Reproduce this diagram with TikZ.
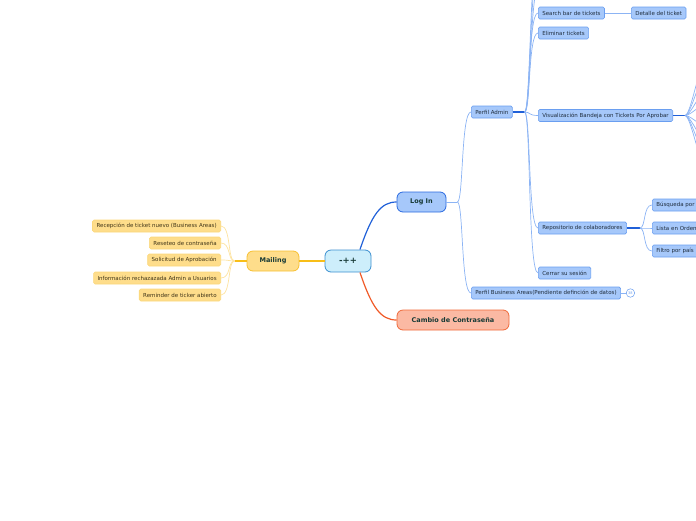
\documentclass[tikz,border=0pt]{standalone}
\usepackage{fontspec}
\setmainfont{DejaVu Sans}
\usetikzlibrary{positioning}

\definecolor{centerfill}{HTML}{CDEEFB}
\definecolor{centerdraw}{HTML}{3B8FD0}
\definecolor{loginfill}{HTML}{A6C8FA}
\definecolor{logindraw}{HTML}{2A6AE0}
\definecolor{pwdfill}{HTML}{FBB9A3}
\definecolor{pwddraw}{HTML}{F06A3A}
\definecolor{mailfill}{HTML}{FEDD8B}
\definecolor{maildraw}{HTML}{F8C030}
\definecolor{subdraw}{HTML}{6A9EF0}
\definecolor{subtext}{HTML}{1F2D3D}
\definecolor{mailsubdraw}{HTML}{FBD77A}
\definecolor{mailtext}{HTML}{3F3418}
\definecolor{topictext}{HTML}{173A36}
\definecolor{linkblue}{HTML}{8CB4F4}
\definecolor{strongblue}{HTML}{2060D8}
\definecolor{linkorange}{HTML}{F05A28}
\definecolor{linkyellow}{HTML}{F8BE18}
\definecolor{lightyellow}{HTML}{FDE3A0}

\begin{document}
\begin{tikzpicture}[x=1pt,y=-1pt,
  topic/.style={draw,rounded corners=6pt,minimum height=20pt,inner xsep=8pt,line width=0.8pt,
    font=\fontsize{6.5}{7}\selectfont\bfseries,text=topictext},
  sub/.style={draw=subdraw,fill=loginfill,rounded corners=1.5pt,minimum height=12pt,inner xsep=4pt,
    inner ysep=0pt,line width=0.6pt,font=\fontsize{5.5}{6}\selectfont,text=subtext},
  mailsub/.style={sub,draw=mailsubdraw,fill=mailfill,text=mailtext},
  link/.style={draw=linkblue,line width=0.7pt},
  mlink/.style={draw=lightyellow,line width=0.7pt},
  fork/.style={draw=strongblue,line width=1.2pt}]
  \useasboundingbox (0,0) rectangle (696,520);
  \clip (0,0) rectangle (696,520);

  % main topics
  \node[topic,fill=centerfill,draw=centerdraw,minimum width=46pt,minimum height=22pt,
    font=\fontsize{8.5}{9}\selectfont\bfseries] (root) at (348,261) {-++};
  \node[topic,fill=mailfill,draw=maildraw,minimum width=52pt] (mailing) at (273,261) {Mailing};
  \node[topic,fill=loginfill,draw=logindraw,minimum width=49pt] (login) at (421.5,202) {Log In};
  \node[topic,fill=pwdfill,draw=pwddraw,minimum width=112pt] (pwd) at (453,320) {Cambio de Contraseña};

  \draw[linkyellow,line width=1.2pt] (root.west) -- (mailing.east);
  \draw[strongblue,line width=1.2pt] (360,249.5) .. controls (372,214) and (381,202) .. (login.west);
  \draw[linkorange,line width=1.2pt] (360,272.5) .. controls (372,308) and (381,320) .. (pwd.west);

  % Mailing
  \node[mailsub,anchor=east] (recep) at (221,226) {Recepción de ticket nuevo (Business Areas)};
  \node[mailsub,anchor=east] (reset) at (221,243) {Reseteo de contraseña};
  \node[mailsub,anchor=east] (solic) at (221,260) {Solicitud de Aprobación};
  \node[mailsub,anchor=east] (info) at (221,278) {Información rechazazada Admin a Usuarios};
  \node[mailsub,anchor=east] (remind) at (221,295) {Reminder de ticker abierto};
  \coordinate[left=12pt of mailing] (mailfork);
  \draw[linkyellow,line width=1.2pt] (mailing.west) -- (mailfork);
  \foreach \t in {recep,reset,solic,info,remind}
    \draw[mlink] (mailfork) .. controls +(-7,0) and +(10,0) .. (\t.east);

  % Log In
  \node[sub,anchor=west] (admin) at (471,112) {Perfil Admin};
  \node[sub,anchor=west] (business) at (471,293) {Perfil Business Areas(Pendiente definción de datos)};
  \node[circle,draw=subdraw,fill=white,line width=0.5pt,inner sep=0pt,minimum size=8.5pt,
    font=\fontsize{3.5}{4}\selectfont,text=subdraw,right=5pt of business] (more) {38};
  \draw[link] (business.east) -- (more.west);
  \coordinate[right=11pt of login] (loginfork);
  \draw[link] (login.east) -- (loginfork);
  \foreach \t in {admin,business}
    \draw[link] (loginfork) .. controls +(6,0) and +(-10,0) .. (\t.west);

  % Perfil Admin
  \node[sub,anchor=west] (search) at (538,13) {Search bar de tickets};
  \node[sub,anchor=west] (detalle) at (631,13) {Detalle del ticket};
  \node[sub,anchor=west] (elim) at (538,33) {Eliminar tickets};
  \node[sub,anchor=west] (bandeja) at (538,115.5) {Visualización Bandeja con Tickets Por Aprobar};
  \node[sub,anchor=west] (repo) at (538,228) {Repositorio de colaboradores};
  \node[sub,anchor=west] (logout) at (538,273) {Cerrar su sesión};
  \coordinate (hidden1) at (540,-18);
  \coordinate (hidden2) at (540,-40);
  \coordinate (hidden3) at (540,-62);
  \coordinate[right=12pt of admin] (adminfork);
  \draw[fork] (admin.east) -- (adminfork);
  \foreach \t in {hidden1,hidden2,hidden3,search.west,elim.west,bandeja.west,repo.west,logout.west}
    \draw[link] (adminfork) .. controls +(6,0) and +(-10,0) .. (\t);
  \draw[link] (search.east) -- (detalle.west);

  % Bandeja (ramas fuera del cuadro)
  \coordinate[right=12pt of bandeja] (bandejafork);
  \draw[fork] (bandeja.east) -- (bandejafork);
  \foreach \y in {40,60,82,100,130,150,168,186}
    \draw[link] (bandejafork) .. controls +(7,0) and +(-12,0) .. (715,\y);

  % Repositorio
  \node[sub,anchor=west,text width=60pt,align=left] (busq) at (652,205) {Búsqueda por};
  \node[sub,anchor=west,text width=60pt,align=left] (lista) at (652,228) {Lista en Orden};
  \node[sub,anchor=west,text width=60pt,align=left] (filtro) at (652,251) {Filtro por país};
  \coordinate[right=13pt of repo] (repofork);
  \draw[fork] (repo.east) -- (repofork);
  \foreach \t in {busq,lista,filtro}
    \draw[link] (repofork) .. controls +(6,0) and +(-9,0) .. (\t.west);
\end{tikzpicture}
\end{document}
